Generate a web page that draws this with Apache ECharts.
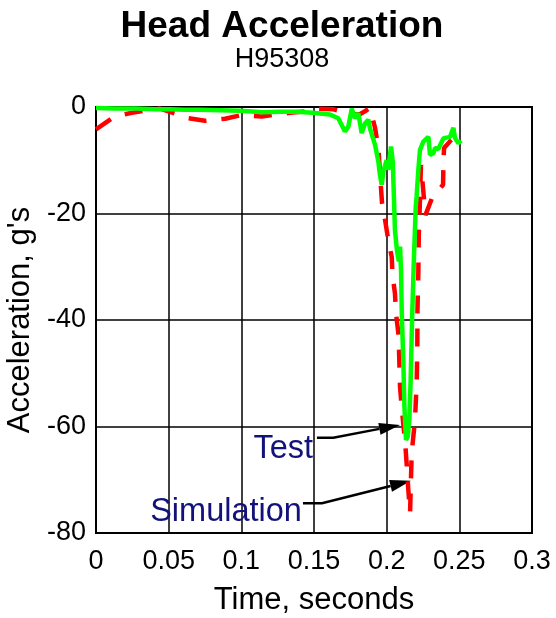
<!DOCTYPE html>
<html>
<head>
<meta charset="utf-8">
<script src="https://cdn.jsdelivr.net/npm/echarts@6/dist/echarts.min.js"></script>
<style>
  html, body { margin: 0; padding: 0; background: #fff; }
  #chart { width: 556px; height: 618px; }
</style>
</head>
<body>
<div id="chart"></div>
<script>
const FONT = '"Liberation Sans", Arial, Helvetica, sans-serif';

// Axis ticks
const timeTicks = [0, 0.05, 0.1, 0.15, 0.2, 0.25, 0.3];
const accelTicks = [-80, -60, -40, -20, 0];

// Measured head acceleration (g's) vs time (s)
const testTime = [0, 0.013, 0.027, 0.041, 0.051, 0.061, 0.0716, 0.0853, 0.0991, 0.115,
  0.1266, 0.138, 0.149, 0.161, 0.1667, 0.1713, 0.1736, 0.176, 0.1782, 0.1805,
  0.1828, 0.1851, 0.1874, 0.1885, 0.192, 0.1943, 0.1954, 0.1966, 0.1977, 0.2,
  0.2011, 0.203, 0.2042, 0.2047, 0.2057, 0.2071, 0.2084, 0.2092, 0.2099, 0.2104,
  0.2115, 0.2122, 0.2133, 0.2145, 0.2156, 0.2165, 0.2176, 0.2188, 0.22, 0.2206,
  0.2218, 0.2229, 0.2252, 0.2287, 0.2298, 0.2321, 0.2333, 0.2355, 0.239, 0.2436,
  0.2459, 0.247, 0.2493, 0.2512];
const testAccel = [-0.2, -0.3, -0.3, -0.4, -0.4, -0.5, -0.5, -0.6, -0.7, -1.0,
  -0.9, -0.9, -1.1, -1.4, -2.1, -4.6, -3.7, -0.3, -2.1, -1.2,
  -4.9, -3.1, -2.4, -4.0, -7.1, -10.3, -12.8, -14.6, -12.1, -10.0,
  -11.8, -7.4, -10.3, -14.5, -23.1, -27.0, -29.0, -26.2, -31.0, -38.7,
  -48.1, -56.3, -62.5, -61.9, -58.8, -51.3, -38.7, -28.1, -18.7, -16.8,
  -11.8, -8.1, -6.5, -5.6, -9.0, -8.7, -7.7, -7.9, -5.9, -5.6,
  -3.9, -5.8, -6.8, -6.3];

// Simulated head acceleration (g's) vs time (s)
const simTime = [0, 0.013, 0.0246, 0.0383, 0.044, 0.0509, 0.0635, 0.075, 0.0888, 0.1003,
  0.1141, 0.1266, 0.1335, 0.1452, 0.1507, 0.163, 0.17, 0.1775, 0.1818, 0.1851,
  0.1885, 0.192, 0.1943, 0.1954, 0.1968, 0.1989, 0.2011, 0.2035, 0.204, 0.2057,
  0.2064, 0.208, 0.2085, 0.2092, 0.2103, 0.2115, 0.2126, 0.2138, 0.2149, 0.2161,
  0.2172, 0.2183, 0.2195, 0.2207, 0.2211, 0.2212, 0.2218, 0.2221, 0.2229, 0.2236,
  0.2267, 0.2312, 0.2388, 0.2391, 0.2395, 0.247, 0.2512];
const simAccel = [-4.2, -1.75, -1.1, -0.5, -0.3, -0.9, -2.1, -2.6, -2.2, -1.5,
  -1.8, -1.3, -1.1, -0.8, -0.3, -0.4, -0.9, -1.4, -1.3, -0.8,
  -0.2, -3.9, -7.7, -12.4, -18.0, -21.2, -25.0, -28.2, -31.5, -35.0,
  -38.7, -42.4, -45.6, -52.6, -56.2, -59.7, -62.5, -67.2, -71.9, -76.2,
  -65.0, -62.0, -58.8, -51.3, -44.7, -38.1, -31.0, -24.0, -17.5, -10.9,
  -20.3, -17.1, -14.6, -10.0, -7.7, -5.4, -5.4];

// Callouts: label anchor (right edge) and leader path ending in an arrow
const calloutNames = ['Test', 'Simulation'];
const calloutAnchors = [[0.1493, -64.2], [0.1417, -76.0]];
const calloutPaths = [
  [[0.152, -62.1], [0.1633, -62.1], [0.2092, -59.7]],
  [[0.1424, -74.4], [0.1555, -74.4], [0.2167, -70.2]]
];

const pairs = (xs, ys) => xs.map((x, i) => [x, ys[i]]);

const chart = echarts.init(document.getElementById('chart'), null, { renderer: 'canvas' });

function renderCallout(params, api) {
  const i = params.dataIndex;
  const pts = calloutPaths[i].map(p => api.coord(p));
  const tip = pts[pts.length - 1];
  const prev = pts[pts.length - 2];
  const dx = tip[0] - prev[0], dy = tip[1] - prev[1];
  const len = Math.sqrt(dx * dx + dy * dy);
  const ux = dx / len, uy = dy / len;
  const headLen = 21, headHalf = 6;
  const base = [tip[0] - ux * headLen, tip[1] - uy * headLen];
  const linePts = pts.slice(0, -1).concat([base]);
  const anchor = api.coord(calloutAnchors[i]);
  return {
    type: 'group',
    children: [
      { type: 'polyline', shape: { points: linePts },
        style: { stroke: '#000', lineWidth: 2.5, fill: null } },
      { type: 'polygon', shape: { points: [
          tip,
          [base[0] - uy * headHalf, base[1] + ux * headHalf],
          [base[0] + uy * headHalf, base[1] - ux * headHalf]
        ] }, style: { fill: '#000' } },
      { type: 'text', x: anchor[0], y: anchor[1],
        style: { text: calloutNames[i], fill: '#12127a', fontSize: 32.5, fontFamily: FONT,
                 align: 'right', verticalAlign: 'middle' } }
    ]
  };
}

chart.setOption({
  animation: false,
  backgroundColor: '#fff',
  graphic: [
    { type: 'text', x: 282, y: 27, style: { text: 'Head Acceleration', fill: '#000',
        fontSize: 37, fontWeight: 'bold', fontFamily: FONT, align: 'center', verticalAlign: 'middle' } },
    { type: 'text', x: 282, y: 60, style: { text: 'H95308', fill: '#000',
        fontSize: 27, fontFamily: FONT, align: 'center', verticalAlign: 'middle' } }
  ],
  grid: { left: 96, right: 24, top: 107, bottom: 85, show: true, outerBoundsMode: 'none',
          borderColor: '#000', borderWidth: 2, backgroundColor: 'transparent' },
  xAxis: {
    type: 'value', min: timeTicks[0], max: timeTicks[timeTicks.length - 1], interval: 0.05,
    name: 'Time, seconds', nameLocation: 'middle', nameGap: 52,
    nameTextStyle: { color: '#000', fontSize: 31, fontFamily: FONT },
    axisLine: { show: false }, axisTick: { show: false },
    axisLabel: { color: '#000', fontSize: 27, fontFamily: FONT, margin: 15,
      formatter: v => String(timeTicks.find(t => Math.abs(t - v) < 1e-9)) },
    splitLine: { show: true, lineStyle: { color: '#000', width: 1.5 } }
  },
  yAxis: {
    type: 'value', min: accelTicks[0], max: accelTicks[accelTicks.length - 1], interval: 20,
    name: "Acceleration, g's", nameLocation: 'middle', nameGap: 52,
    nameTextStyle: { color: '#000', fontSize: 31, fontFamily: FONT },
    axisLine: { show: false }, axisTick: { show: false },
    axisLabel: { color: '#000', fontSize: 27, fontFamily: FONT, margin: 10,
      formatter: v => String(accelTicks.find(t => Math.abs(t - v) < 1e-9)) },
    splitLine: { show: true, lineStyle: { color: '#000', width: 1.5 } }
  },
  series: [
    { name: 'Simulation', type: 'line', data: pairs(simTime, simAccel),
      showSymbol: false, symbol: 'none', smooth: false, clip: true,
      lineStyle: { color: '#ff0000', width: 4.5, type: [18, 15] } },
    { name: 'Test', type: 'line', data: pairs(testTime, testAccel),
      showSymbol: false, symbol: 'none', smooth: false, clip: true,
      lineStyle: { color: '#00ff00', width: 4.5 } },
    { type: 'custom', renderItem: renderCallout, clip: false,
      data: calloutNames.map((n, i) => [calloutAnchors[i][0], calloutAnchors[i][1]]) }
  ]
});
</script>
</body>
</html>
